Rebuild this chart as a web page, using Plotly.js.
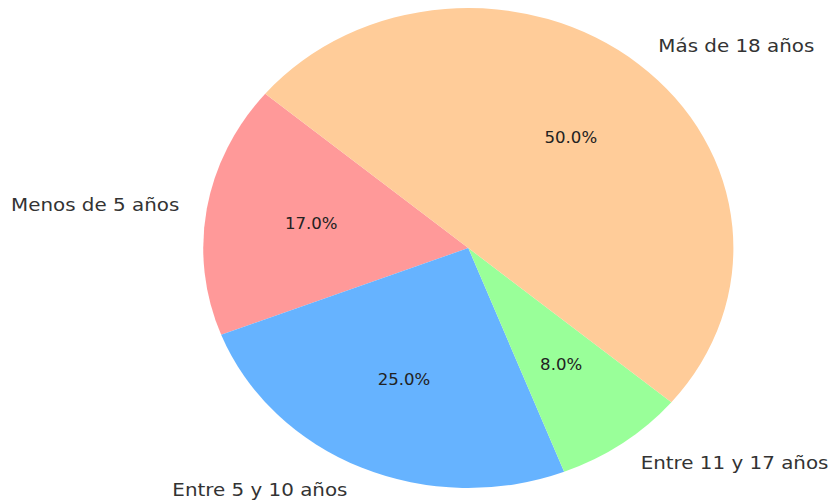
<!DOCTYPE html>
<html>
<head>
<meta charset="utf-8">
<script src="https://cdn.plot.ly/plotly-3.0.1.min.js"></script>
<style>
  html, body { margin: 0; padding: 0; background: #ffffff; overflow: hidden; }
  #wrap { width: 835px; height: 500px; overflow: hidden; }
  #chart { width: 756px; height: 500px; transform: scaleX(1.1045); transform-origin: 0 0; }
</style>
</head>
<body>
<div id="wrap"><div id="chart"></div></div>
<script>
// ---- data ----
const categories = ['Menos de 5 años', 'Entre 5 y 10 años', 'Entre 11 y 17 años', 'Más de 18 años'];
const values = [17, 25, 8, 50];
const colors = ['#ff9999', '#66b3ff', '#99ff99', '#ffcc99'];
const startAngle = 140; // degrees, counterclockwise from 3 o'clock

// ---- layout geometry (unstretched) ----
const W = 756, H = 500;
const cx = 424, cy = 248, r = 240;
const labelDist = 1.1, pctDist = 0.6;

const total = values.reduce((s, v) => s + v, 0);
const annotations = [];
let a = startAngle;
values.forEach((v, i) => {
  const span = v / total * 360;
  const mid = (a + span / 2) * Math.PI / 180;
  const c = Math.cos(mid), s = Math.sin(mid);
  annotations.push({
    xref: 'paper', yref: 'paper',
    x: (cx + labelDist * r * c) / W,
    y: (H - cy + labelDist * r * s) / H,
    xanchor: c >= 0 ? 'left' : 'right', yanchor: 'middle',
    text: categories[i], showarrow: false,
    font: { family: 'DejaVu Sans', size: 18, color: '#333333' }
  });
  annotations.push({
    xref: 'paper', yref: 'paper',
    x: (cx + pctDist * r * c) / W,
    y: (H - cy + pctDist * r * s) / H,
    xanchor: 'center', yanchor: 'middle',
    text: (v / total * 100).toFixed(1) + '%', showarrow: false,
    font: { family: 'DejaVu Sans', size: 15, color: '#222222' }
  });
  a += span;
});

// Plotly's counterclockwise pie: the first slice ends at `rotation` (clockwise from 12 o'clock)
const firstEnd = startAngle + values[0] / total * 360;

const trace = {
  type: 'pie',
  labels: categories,
  values: values,
  marker: { colors: colors, line: { width: 0 } },
  sort: false,
  direction: 'counterclockwise',
  rotation: 90 - firstEnd,
  textinfo: 'none',
  hoverinfo: 'label+percent',
  showlegend: false,
  domain: { x: [(cx - r) / W, (cx + r) / W], y: [(H - cy - r) / H, (H - cy + r) / H] }
};

const layout = {
  width: W, height: H,
  margin: { l: 0, r: 0, t: 0, b: 0 },
  paper_bgcolor: '#ffffff',
  showlegend: false,
  annotations: annotations
};

Plotly.newPlot('chart', [trace], layout, { displayModeBar: false, staticPlot: true });
</script>
</body>
</html>
